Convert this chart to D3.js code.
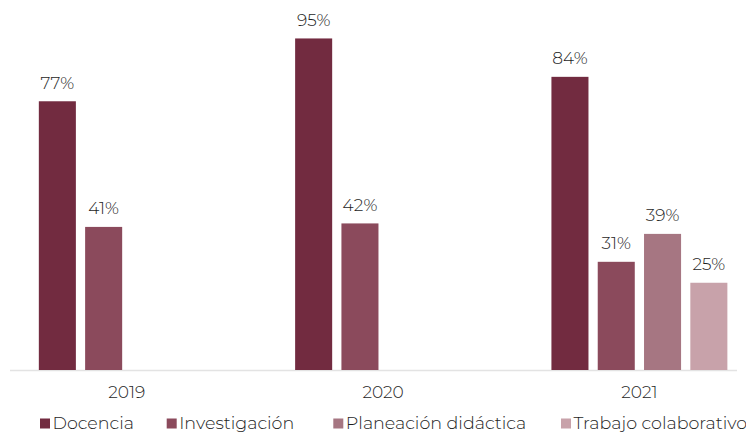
<!DOCTYPE html>
<html>
<head>
<meta charset="utf-8">
<script src="https://cdn.jsdelivr.net/npm/d3@7"></script>
<style>
  html, body { margin: 0; padding: 0; background: #fff; }
  svg { display: block; }
  text { font-family: "Montserrat", "Inter", "Open Sans", sans-serif; font-weight: 300; fill: #1e1e1e; }
</style>
</head>
<body>
<svg id="chart" width="746" height="433"></svg>
<script>
const years = ["2019", "2020", "2021"];
const seriesNames = ["Docencia", "Investigación", "Planeación didáctica", "Trabajo colaborativo"];
const docencia = [77, 95, 84];
const investigacion = [41, 42, 31];
const planeacion = [null, null, 39];
const trabajo = [null, null, 25];
const seriesColors = ["#722B40", "#8B4A5C", "#A67682", "#C8A2AA"];

const seriesValues = [docencia, investigacion, planeacion, trabajo];
const data = years.map((y, i) => ({
  year: y,
  values: seriesNames.map((s, j) => ({ series: s, value: seriesValues[j][i] }))
}));

const svg = d3.select("#chart");

const x0 = d3.scaleBand().domain(years).range([-1.3, 767.6]).padding(0);
const x1 = d3.scaleBand().domain(seriesNames).range([35.5, 220.7]).paddingInner(0.2).paddingOuter(0.1);
const y = d3.scaleLinear().domain([0, 100]).range([370, 21]);
const color = d3.scaleOrdinal().domain(seriesNames).range(seriesColors);

// baseline
svg.append("line")
  .attr("x1", 10).attr("x2", 737)
  .attr("y1", y(0) + 0.5).attr("y2", y(0) + 0.5)
  .attr("stroke", "#e3e3e3").attr("stroke-width", 1.5);

const groups = svg.selectAll("g.grp").data(data).join("g")
  .attr("class", "grp")
  .attr("transform", d => `translate(${x0(d.year)},0)`);

const present = d => d.values.filter(v => v.value != null);

groups.selectAll("rect").data(present).join("rect")
  .attr("x", d => x1(d.series))
  .attr("width", x1.bandwidth())
  .attr("y", d => y(d.value))
  .attr("height", d => y(0) - y(d.value))
  .attr("fill", d => color(d.series));

groups.selectAll("text.val").data(present).join("text")
  .attr("class", "val")
  .attr("x", d => x1(d.series) + x1.bandwidth() / 2)
  .attr("y", d => y(d.value) - 12.5)
  .attr("text-anchor", "middle")
  .attr("font-size", 17)
  .text(d => d.value + "%");

// category axis labels
const xAxis = d3.axisBottom(x0).tickSize(0).tickPadding(0)
  .tickFormat(d => d);
const ax = svg.append("g").attr("transform", `translate(0,${y(0)})`).call(xAxis);
ax.select(".domain").remove();
ax.selectAll(".tick").attr("transform", d => `translate(${x0(d) + (x1.range()[0] + x1.range()[1]) / 2},0)`);
ax.selectAll(".tick text")
  .attr("y", 28).attr("dy", 0)
  .attr("font-size", 17)
  .attr("font-family", null)
  .attr("fill", "#1e1e1e");

// legend
const legendX = [40, 166.7, 333.3, 561];
const legend = svg.append("g");
seriesNames.forEach((s, i) => {
  const g = legend.append("g").attr("transform", `translate(${legendX[i]},0)`);
  g.append("rect").attr("x", 0).attr("y", 418.5).attr("width", 10).attr("height", 10).attr("fill", color(s));
  g.append("text").attr("x", 12.5).attr("y", 429).attr("font-size", 17.5).text(s);
});
</script>
</body>
</html>
